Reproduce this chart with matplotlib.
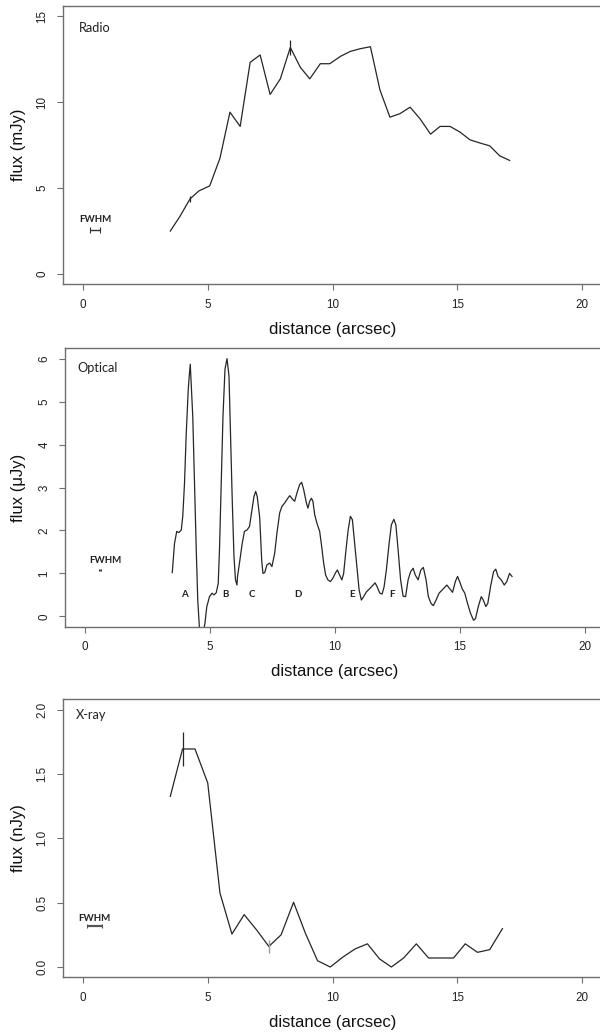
import matplotlib
matplotlib.use("Agg")
import matplotlib.pyplot as plt
from matplotlib.ticker import FixedLocator, FormatStrFormatter

plt.rcParams["font.family"] = ["Liberation Sans", "DejaVu Sans"]

# ---------------- data ----------------
radio_x = [3.5, 3.88, 4.29, 4.65, 5.08, 5.49, 5.89, 6.3, 6.7, 7.1, 7.5, 7.91, 8.31, 8.71, 9.09,
           9.51, 9.89, 10.32, 10.72, 11.1, 11.52, 11.9, 12.3, 12.7, 13.11, 13.51, 13.93, 14.31,
           14.71, 15.11, 15.51, 15.92, 16.3, 16.7, 17.1]
radio_y = [2.5, 3.34, 4.37, 4.84, 5.13, 6.74, 9.42, 8.59, 12.32, 12.75, 10.45, 11.36, 13.19, 12.03,
           11.36, 12.24, 12.24, 12.67, 12.96, 13.11, 13.23, 10.72, 9.13, 9.33, 9.71, 9.03, 8.14,
           8.59, 8.59, 8.26, 7.81, 7.62, 7.46, 6.88, 6.61]
radio_err_x = [4.29, 8.31]
radio_err_y = [4.37, 13.19]
radio_err = [0.17, 0.45]

opt_x = [3.49, 3.58, 3.67, 3.75, 3.85, 3.91, 3.98, 4.05, 4.13, 4.17, 4.21, 4.24, 4.31, 4.38, 4.45,
         4.51, 4.58, 4.66, 4.74, 4.80, 4.87, 4.98, 5.08, 5.16, 5.25, 5.33, 5.38, 5.45, 5.52, 5.60,
         5.68, 5.76, 5.82, 5.89, 5.96, 6.02, 6.08, 6.10, 6.18, 6.29, 6.38, 6.48, 6.58, 6.68, 6.76,
         6.83, 6.89, 6.99, 7.07, 7.12, 7.19, 7.28, 7.39, 7.48, 7.59, 7.68, 7.79, 7.88, 7.99, 8.08,
         8.19, 8.30, 8.39, 8.48, 8.59, 8.67, 8.75, 8.86, 8.92, 8.99, 9.06, 9.12, 9.19, 9.28, 9.39,
         9.47, 9.55, 9.63, 9.72, 9.82, 9.92, 10.03, 10.10, 10.19, 10.28, 10.35, 10.43, 10.53, 10.62,
         10.70, 10.79, 10.89, 10.97, 11.06, 11.15, 11.26, 11.40, 11.53, 11.61, 11.69, 11.80, 11.89,
         11.97, 12.06, 12.17, 12.26, 12.36, 12.44, 12.53, 12.63, 12.73, 12.83, 12.93, 13.03, 13.13,
         13.22, 13.33, 13.44, 13.54, 13.65, 13.74, 13.85, 13.94, 14.05, 14.17, 14.32, 14.48, 14.59,
         14.71, 14.82, 14.91, 15.02, 15.09, 15.20, 15.31, 15.43, 15.55, 15.63, 15.74, 15.86, 15.94,
         16.04, 16.12, 16.23, 16.35, 16.44, 16.53, 16.66, 16.78, 16.88, 16.99, 17.09]
opt_y = [1.02, 1.70, 1.98, 1.95, 2.01, 2.33, 3.10, 4.27, 5.28, 5.60, 5.87, 5.50, 4.66, 3.10, 1.55,
         0.38, -0.30, -0.55, -0.35, -0.15, 0.22, 0.46, 0.54, 0.50, 0.55, 0.77, 1.55, 3.10, 4.66, 5.75,
         6.00, 5.60, 4.27, 2.72, 1.39, 0.85, 0.73, 0.92, 1.24, 1.70, 1.98, 2.01, 2.09, 2.48, 2.79,
         2.91, 2.79, 2.30, 1.30, 1.00, 1.02, 1.20, 1.24, 1.16, 1.47, 1.94, 2.41, 2.56, 2.64, 2.72,
         2.81, 2.73, 2.68, 2.87, 3.07, 3.12, 2.95, 2.64, 2.52, 2.68, 2.75, 2.68, 2.37, 2.17, 1.98,
         1.63, 1.24, 0.96, 0.85, 0.81, 0.89, 1.02, 1.08, 0.96, 0.85, 1.00, 1.47, 2.01, 2.33,
         2.25, 1.70, 1.08, 0.61, 0.38, 0.46, 0.57, 0.65, 0.73, 0.78, 0.69, 0.54, 0.52,
         0.69, 1.08, 1.70, 2.13, 2.26, 2.13, 1.55, 0.85, 0.47, 0.46, 0.85, 1.04, 1.12,
         0.96, 0.85, 1.08, 1.14, 0.85, 0.46, 0.30, 0.25, 0.38, 0.54, 0.63, 0.73, 0.65,
         0.56, 0.81, 0.93, 0.77, 0.65, 0.54, 0.30, 0.07, -0.09, -0.05, 0.23, 0.46, 0.38,
         0.23, 0.30, 0.69, 1.04, 1.10, 0.93, 0.85, 0.73, 0.81, 1.00, 0.93]
opt_labels = ["A", "B", "C", "D", "E", "F"]
opt_label_x = [3.99, 5.61, 6.68, 8.52, 10.70, 12.29]
opt_label_y = 0.5

xray_x = [3.5, 3.99, 4.49, 5.0, 5.49, 5.97, 6.46, 6.95, 7.45, 7.94, 8.44, 8.91, 9.4, 9.91, 10.4,
          10.9, 11.4, 11.89, 12.36, 12.85, 13.36, 13.85, 14.34, 14.85, 15.32, 15.81, 16.3, 16.81]
xray_y = [1.326, 1.694, 1.694, 1.43, 0.575, 0.256, 0.407, 0.29, 0.16, 0.25, 0.503, 0.264, 0.049,
          0.0, 0.075, 0.14, 0.18, 0.062, 0.0, 0.07, 0.18, 0.07, 0.07, 0.07, 0.18, 0.114, 0.135, 0.298]

x_ticks = [0, 5, 10, 15, 20]
radio_yticks = [0, 5, 10, 15]
opt_yticks = [0, 1, 2, 3, 4, 5, 6]
xray_yticks = [0.0, 0.5, 1.0, 1.5, 2.0]

# ---------------- figure ----------------
W, H = 600, 1034
fig = plt.figure(figsize=(W / 100, H / 100), dpi=100)

AX_FONT = ["Liberation Sans", "DejaVu Sans"]
ANN_FONT = ["Lato", "DejaVu Sans"]
LINE_C = "#262626"
SPINE_C = "#6e6e6e"


def make_axes(left_px, top_px, right_px, bottom_px):
    return fig.add_axes([left_px / W, 1 - bottom_px / H,
                         (right_px - left_px) / W, (bottom_px - top_px) / H])


# ---- Radio ----
ax1 = make_axes(63, 6, 602, 284.3)
ax1.plot(radio_x, radio_y, color=LINE_C, lw=0.9)
ax1.errorbar(radio_err_x, radio_err_y, yerr=radio_err, fmt="none", ecolor=LINE_C,
             elinewidth=0.9, capsize=0)
ax1.errorbar([0.485], [2.57], xerr=[0.205], fmt="none", ecolor="#333333",
             elinewidth=1.0, capsize=2, capthick=0.8)
ax1.text(0.51, 3.15, "FWHM", ha="center", va="center", fontsize=7,
         fontweight="bold", family=ANN_FONT, color="#222222")
ax1.text(-0.16, 14.33, "Radio", ha="left", va="center", fontsize=9.2,
         family=ANN_FONT, color="#222222")

# ---- Optical ----
ax2 = make_axes(65.1, 348.3, 604.7, 626.7)
ax2.plot(opt_x, opt_y, color=LINE_C, lw=0.9)
for lab, lx in zip(opt_labels, opt_label_x):
    ax2.text(lx, opt_label_y, lab, ha="center", va="center", fontsize=7,
             fontweight="bold", family=ANN_FONT, color="#222222")
ax2.errorbar([0.6], [1.08], xerr=[0.03], fmt="none", ecolor="#333333",
             elinewidth=1.0, capsize=1, capthick=0.8)
ax2.text(0.83, 1.30, "FWHM", ha="center", va="center", fontsize=7,
         fontweight="bold", family=ANN_FONT, color="#222222")
ax2.text(-0.29, 5.77, "Optical", ha="left", va="center", fontsize=9.2,
         family=ANN_FONT, color="#222222")

# ---- X-ray ----
ax3 = make_axes(63, 699.3, 602, 977.3)
ax3.plot(xray_x, xray_y, color=LINE_C, lw=0.9)
ax3.errorbar([xray_x[1]], [xray_y[1]], yerr=[0.135], fmt="none", ecolor=LINE_C,
             elinewidth=0.9, capsize=0)
ax3.errorbar([xray_x[8]], [xray_y[8]], yerr=[0.05], fmt="none", ecolor="#9a9a9a",
             elinewidth=1.0, capsize=0)
ax3.errorbar([0.465], [0.316], xerr=[0.285], fmt="none", ecolor="#555555",
             elinewidth=1.6, capsize=1.5, capthick=0.8)
ax3.text(0.46, 0.378, "FWHM", ha="center", va="center", fontsize=7,
         fontweight="bold", family=ANN_FONT, color="#222222")
ax3.text(-0.3, 1.96, "X-ray", ha="left", va="center", fontsize=9.2,
         family=ANN_FONT, color="#222222")

panels = [
    (ax1, (-0.6, 15.6), radio_yticks, "%g", "flux (mJy)", 6, 284.3, 63, 602),
    (ax2, (-0.24, 6.24), opt_yticks, "%g", "flux (\u03bcJy)", 348.3, 626.7, 65.1, 604.7),
    (ax3, (-0.08, 2.08), xray_yticks, "%.1f", "flux (nJy)", 699.3, 977.3, 63, 602),
]
for ax, ylim, yt, yf, yl, tp, bp, lp, rp in panels:
    ax.set_xlim(-0.8, 20.8)
    ax.set_ylim(*ylim)
    ax.xaxis.set_major_locator(FixedLocator(x_ticks))
    ax.yaxis.set_major_locator(FixedLocator(yt))
    ax.yaxis.set_major_formatter(FormatStrFormatter(yf))
    for s in ["left", "bottom", "top"]:
        ax.spines[s].set_color(SPINE_C)
        ax.spines[s].set_linewidth(1.0)
    ax.spines["right"].set_visible(False)
    ax.tick_params(direction="out", length=4.4, width=0.8, color=SPINE_C,
                   labelsize=8.4, pad=6, labelcolor="#222222")
    for lab in ax.get_yticklabels():
        lab.set_rotation(90)
        lab.set_verticalalignment("center")
    ymid = 1 - ((tp + bp) / 2) / H
    fig.text(18 / W, ymid, yl, rotation=90, ha="center", va="center",
             fontsize=12, color="#111111")
    x0 = lp + (0.8 / 21.6) * (rp - lp)
    x20 = lp + (20.8 / 21.6) * (rp - lp)
    fig.text(((x0 + x20) / 2) / W, 1 - (bp + 45) / H, "distance (arcsec)",
             ha="center", va="center", fontsize=12, color="#111111")

fig.savefig("out.png", dpi=100)
